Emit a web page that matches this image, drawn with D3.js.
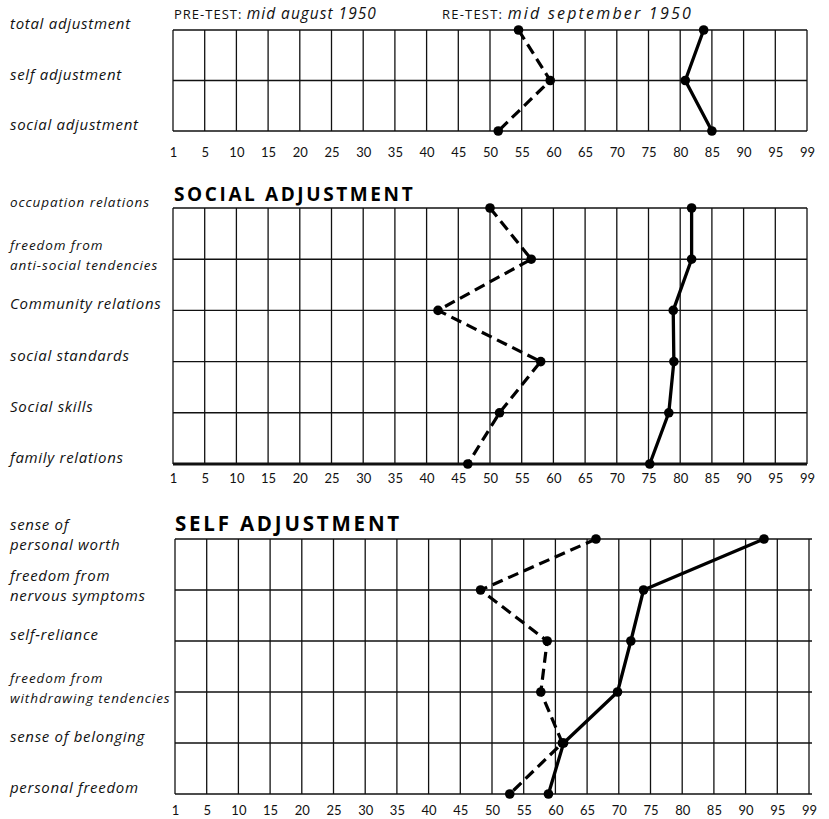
<!DOCTYPE html>
<html>
<head>
<meta charset="utf-8">
<script src="https://cdn.jsdelivr.net/npm/d3@7"></script>
<style>
  body { margin: 0; background: white; }
  svg { display: block; }
  .lab { font-family: "Open Sans", sans-serif; font-style: italic; fill: #111; }
  .tick text { font-family: "Lato", sans-serif; font-size: 13px; fill: #111; }
</style>
</head>
<body>
<div id="wrapper"></div>
<script>
// percentile ticks along the bottom of each grid
var ticks = [1, 5, 10, 15, 20, 25, 30, 35, 40, 45, 50, 55, 60, 65, 70, 75, 80, 85, 90, 95, 99];

// summary panel
var totalLabels = ["total adjustment", "self adjustment", "social adjustment"];
var totalPre = [54.5, 59.5, 51.3];
var totalRe  = [83.7, 80.8, 85];

// social adjustment panel
var socialLabels = ["occupation relations", "freedom from|anti-social tendencies", "Community relations",
                    "social standards", "Social skills", "family relations"];
var socialPre = [50, 56.5, 41.8, 58, 51.5, 46.5];
var socialRe  = [81.8, 81.8, 78.9, 79, 78.2, 75.2];

// self adjustment panel
var selfLabels = ["sense of|personal worth", "freedom from|nervous symptoms", "self-reliance",
                  "freedom from|withdrawing tendencies", "sense of belonging", "personal freedom"];
var selfPre = [66.4, 48.2, 58.7, 57.7, 61.1, 52.8];
var selfRe  = [92.9, 73.9, 71.9, 69.8, 61.3, 58.9];

var W = 829, H = 819;

var svg = d3.select("#wrapper")
    .append("svg")
    .attr("width", W)
    .attr("height", H);

function panel(opts) {
    var x = d3.scaleLinear()
        .domain(ticks)
        .range(ticks.map((d, i) => opts.left + i * (opts.right - opts.left) / (ticks.length - 1)));

    var y = d3.scalePoint()
        .domain(opts.labels)
        .range([opts.top, opts.bottom]);

    var g = svg.append("g");

    // vertical grid
    g.selectAll("line.v")
        .data(ticks)
        .enter()
        .append("line")
        .attr("class", "v")
        .attr("x1", d => x(d))
        .attr("x2", d => x(d))
        .attr("y1", opts.top)
        .attr("y2", opts.bottom)
        .attr("stroke", "#111")
        .attr("stroke-width", 1.3);

    // horizontal grid, one per row
    g.selectAll("line.h")
        .data(opts.labels)
        .enter()
        .append("line")
        .attr("class", "h")
        .attr("x1", opts.left)
        .attr("x2", opts.right + (opts.over || 0))
        .attr("y1", d => y(d))
        .attr("y2", d => y(d))
        .attr("stroke", "#111")
        .attr("stroke-width", (d, i) => (opts.heavyBottom && i === opts.labels.length - 1) ? 3 : 1.4);

    // tick numbers
    var axis = g.append("g")
        .attr("transform", "translate(0," + (opts.bottom + opts.tickGap) + ")")
        .call(d3.axisBottom(x).tickValues(ticks).tickSize(0).tickFormat(d3.format("d")));
    axis.select(".domain").remove();
    axis.selectAll("text").attr("dy", "0.35em").attr("y", 0);

    // row labels
    opts.labels.forEach(function(lab) {
        var parts = lab.split("|");
        var small = opts.small && opts.small(lab);
        var t = g.append("text")
            .attr("class", "lab")
            .attr("x", 10)
            .attr("font-size", small ? 13.5 : 15)
            .attr("letter-spacing", small ? 0.9 : 0.7);
        if (parts.length === 1) {
            t.attr("y", y(lab) - 1).text(lab);
        } else {
            t.append("tspan").attr("x", 10).attr("y", y(lab) - 9).text(parts[0]);
            t.append("tspan").attr("x", 10).attr("y", y(lab) + 11).text(parts[1]);
        }
    });

    var line = d3.line()
        .x(d => x(d.v))
        .y(d => y(d.k));

    var pre = opts.labels.map((k, i) => ({k: k, v: opts.pre[i]}));
    var re  = opts.labels.map((k, i) => ({k: k, v: opts.re[i]}));

    g.append("path")
        .datum(pre)
        .attr("d", line)
        .attr("fill", "none")
        .attr("stroke", "#000")
        .attr("stroke-width", 3.2)
        .attr("stroke-dasharray", "11,6");

    g.append("path")
        .datum(re)
        .attr("d", line)
        .attr("fill", "none")
        .attr("stroke", "#000")
        .attr("stroke-width", 3.3)
        .attr("stroke-linejoin", "round");

    g.selectAll("circle.dot")
        .data(pre.concat(re))
        .enter()
        .append("circle")
        .attr("class", "dot")
        .attr("cx", d => x(d.v))
        .attr("cy", d => y(d.k))
        .attr("r", 4.8)
        .attr("fill", "#000");
}

panel({
    labels: totalLabels, pre: totalPre, re: totalRe,
    left: 173, right: 807, top: 30, bottom: 131, tickGap: 21
});

panel({
    labels: socialLabels, pre: socialPre, re: socialRe,
    left: 173, right: 807, top: 208, bottom: 464, tickGap: 14, heavyBottom: true,
    small: d => d === "occupation relations" || d.indexOf("anti") >= 0
});

panel({
    labels: selfLabels, pre: selfPre, re: selfRe,
    left: 175, right: 809, top: 539, bottom: 794, tickGap: 16, over: 3,
    small: d => d.indexOf("withdrawing") >= 0
});

// headings
var h1 = svg.append("text").attr("x", 174).attr("y", 19)
    .attr("font-family", "Open Sans, sans-serif").attr("font-size", 13)
    .attr("letter-spacing", 1).attr("fill", "#111");
h1.append("tspan").text("PRE-TEST: ");
h1.append("tspan").attr("font-style", "italic").attr("font-size", 15.5).text("mid august 1950");

var h2 = svg.append("text").attr("x", 442).attr("y", 19)
    .attr("font-family", "Open Sans, sans-serif").attr("font-size", 13)
    .attr("letter-spacing", 1.2).attr("fill", "#111");
h2.append("tspan").text("RE-TEST: ");
h2.append("tspan").attr("font-style", "italic").attr("font-size", 16).attr("letter-spacing", 2.2).text("mid september 1950");

svg.append("text").attr("x", 174).attr("y", 201)
    .attr("font-family", "Open Sans, sans-serif").attr("font-weight", "bold")
    .attr("font-size", 19).attr("letter-spacing", 2.6).attr("fill", "#000")
    .text("SOCIAL ADJUSTMENT");

svg.append("text").attr("x", 175).attr("y", 531)
    .attr("font-family", "Open Sans, sans-serif").attr("font-weight", "bold")
    .attr("font-size", 20.5).attr("letter-spacing", 2.8).attr("fill", "#000")
    .text("SELF ADJUSTMENT");
</script>
</body>
</html>
